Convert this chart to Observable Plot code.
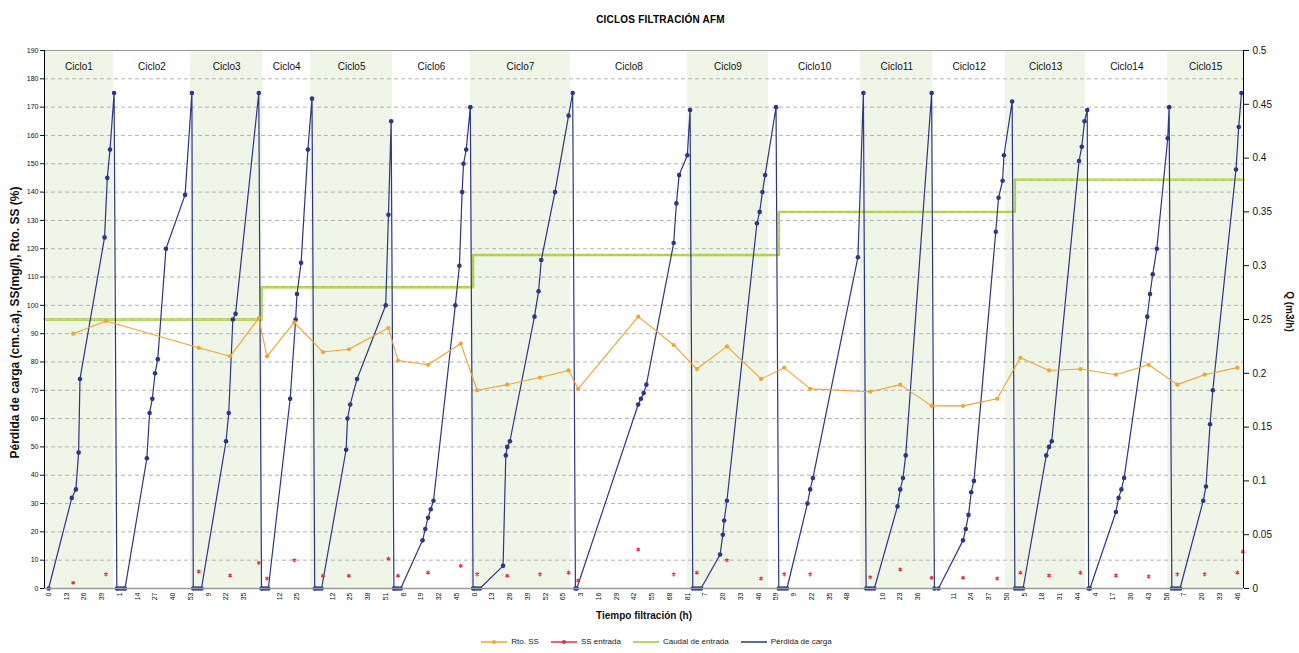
<!DOCTYPE html>
<html><head><meta charset="utf-8">
<script src="https://cdn.jsdelivr.net/npm/d3@7"></script>
<script src="https://cdn.jsdelivr.net/npm/@observablehq/plot@0.6"></script>
<style>
body{margin:0;background:#fff;font-family:"Liberation Sans",Arial,sans-serif;}
#title{height:40px;line-height:40px;text-align:center;font-weight:bold;font-size:10px;padding-left:22px;font-family:"Liberation Sans Narrow","Liberation Sans",Arial,sans-serif;letter-spacing:0.2px}
#chart{height:590px}
#legend{display:flex;justify-content:center;align-items:center;gap:12px;font-size:8px;height:23px;padding-left:14px;color:#222}
#legend span.it{display:flex;align-items:center;gap:4px}
</style></head><body>
<div id="title">CICLOS FILTRACIÓN AFM</div>
<div id="chart"></div>
<div id="legend"></div>
<script>
// ---------- data ----------
const cycleNames = ["Ciclo1","Ciclo2","Ciclo3","Ciclo4","Ciclo5","Ciclo6","Ciclo7","Ciclo8","Ciclo9","Ciclo10","Ciclo11","Ciclo12","Ciclo13","Ciclo14","Ciclo15"];
// category index where each shaded cycle band starts/ends (16 edges)
const bandEdges = [-3, 47.5, 104, 157, 192, 252, 309, 382.5, 468, 527.5, 595, 648, 701, 760, 820, 875.5];

// x tick labels (one every 13 categories)
const tickLabels = ["0","13","26","39","1","14","27","40","53","9","22","35","","12","25","","12","25","38","51","6","19","32","45","0","13","26","39","52","65","3","16","29","42","55","68","81","7","20","33","46","59","9","22","35","48","","10","23","36","","11","24","37","50","5","18","31","44","4","17","30","43","56","7","20","33","46"];

// Caudal de entrada (m3/h): category where each level begins, and level
const caudalDesde = [-3, 156, 311, 535, 708, 875.5];
const caudalQ = [0.25, 0.28, 0.31, 0.35, 0.38, 0.38];

// sampling categories for Rto. SS and SS entrada
const muestraIdx = [18,42,110,133,154,160,180,201,220,249,256,278,302,314,336,360,381,388,432,458,475,497,522,539,558,602,624,647,670,695,712,733,756,782,806,827,847,871,875];
const rtoSS = [90,94.5,85,82,95.5,82,94,83.5,84.5,92,80.5,79,86.5,70,72,74.5,77,70.5,96,86,77.5,85.5,74,78,70.5,69.5,72,64.5,64.5,67,81.5,77,77.5,75.5,79,72,75.5,78,null];
const ssEntrada = [2,5,6,4.6,9,3.5,10,4.5,4.5,10.5,4.5,5.6,8,5,4.5,5,5.6,2.8,13.8,5,5.6,10,3.5,5,5,4,6.7,3.8,3.8,3.5,5.6,4.6,5.6,4.6,4.2,5,5,5.6,13];

// Pérdida de carga (cm.c.a): [category, value]
const perdidaCarga = [
  // Ciclo1
  [0,0],[17,32],[20,35],[22,48],[23,74],[41,124],[43,145],[45,155],[48,175],[50,0],
  // Ciclo2
  [51,0],[53,0],[55,0],[56,0],[72,46],[74,62],[76,67],[78,76],[80,81],[86,120],[100,139],[105,175],[106,0],
  // Ciclo3
  [108,0],[110,0],[112,0],[130,52],[132,62],[135,95],[137,97],[154,175],[156,0],
  // Ciclo4
  [157,0],[159,0],[161,0],[177,67],[181,95],[182,104],[185,115],[190,155],[193,173],[195,0],
  // Ciclo5
  [196,0],[198,0],[200,0],[218,49],[219,60],[221,65],[226,74],[247,100],[249,132],[251,165],[253,0],
  // Ciclo6
  [254,0],[256,0],[258,0],[274,17],[276,21],[278,25],[280,28],[282,31],[298,100],[301,114],[303,140],[304,150],[306,155],[309,170],[311,0],
  // Ciclo7
  [312,0],[314,0],[316,0],[333,8],[335,47],[336,50],[338,52],[356,96],[359,105],[361,116],[371,140],[381,167],[384,175],[386,0],
  // Ciclo8
  [387,0],[432,65],[434,67],[436,69],[438,72],[458,122],[460,136],[462,146],[468,153],[470,169],[472,0],
  // Ciclo9
  [474,0],[476,0],[478,0],[492,12],[494,19],[495,24],[497,31],[519,129],[521,133],[523,140],[525,146],[533,170],[535,0],
  // Ciclo10
  [537,0],[539,0],[541,0],[556,30],[558,35],[560,39],[593,117],[597,175],[599,0],
  // Ciclo11
  [601,0],[603,0],[605,0],[622,29],[624,35],[626,39],[628,47],[647,175],[649,0],
  // Ciclo12
  [652,0],[670,17],[672,21],[674,26],[676,34],[678,38],[694,126],[696,138],[699,144],[700,153],[706,172],[708,0],
  // Ciclo13
  [710,0],[712,0],[714,0],[731,47],[733,50],[735,52],[755,151],[757,156],[759,165],[761,169],[762,0],
  // Ciclo14
  [763,0],[782,27],[784,32],[786,35],[788,39],[805,96],[807,104],[809,111],[812,120],[820,159],[821,170],[823,0],
  // Ciclo15
  [825,0],[827,0],[829,0],[846,31],[848,36],[851,58],[853,70],[870,148],[872,163],[874,175]
];

const rightTickLabels = ["0","0.05","0.1","0.15","0.2","0.25","0.3","0.35","0.4","0.45","0.5"];
const leftTitle = "Pérdida de carga (cm.c.a), SS(mg/l), Rto. SS (%)";
const rightTitle = "Q (m3/h)";
const xTitle = "Tiempo filtración (h)";
const legendItems = ["Rto. SS","SS entrada","Caudal de entrada","Pérdida de carga"];

// ---------- derived tables ----------
const Q_TO_Y = 190 / 0.5;
const colors = {rto:"#f0a431", ss:"#e2323c", caudal:"#a2c93a", perdida:"#2c3589", band:"#eff6e8"};
const bands = cycleNames.map((name,i)=>({name, x1:bandEdges[i], x2:bandEdges[i+1], i}));
const ticks = tickLabels.map((t,i)=>({x:i*13, t}));
const tickMap = new Map(ticks.map(d=>[d.x,d.t]));
const caudal = caudalDesde.map((x,i)=>({x, y:caudalQ[i]*Q_TO_Y}));
const muestras = muestraIdx.map((x,i)=>({x, rto:rtoSS[i], ss:ssEntrada[i]}));
const perdida = perdidaCarga.map(([x,y])=>({x,y}));

const chart = Plot.plot({
  width: 1299, height: 590,
  marginLeft: 44, marginRight: 56, marginTop: 10, marginBottom: 42,
  style: {fontFamily: "'Liberation Sans', Arial, sans-serif", fontSize: "7px", color:"#111", background:"#fff"},
  x: {domain: [-3, 875.5], axis: null},
  y: {domain: [0, 190], axis: null},
  marks: [
    Plot.rect(bands, {x1:"x1", x2:"x2", y1:0, y2:190, fill: d => d.i % 2 === 0 ? colors.band : "#ffffff"}),
    Plot.ruleY(d3.range(10, 190, 10), {stroke:"#aaaaaa", strokeDasharray:"4,3", strokeWidth:0.9}),
    Plot.ruleY([190], {stroke:"#999", strokeWidth:1}),
    Plot.text(bands, {x: d => (d.x1 + d.x2) / 2, y: 184.3, text:"name", fontSize: 10, fill:"#111"}),
    // Caudal
    Plot.line(caudal, {x:"x", y:"y", curve:"step-after", stroke: colors.caudal, strokeWidth: 2.4}),
    Plot.line(caudal, {x:"x", y:"y", curve:"step-after", stroke: "#d8e98f", strokeWidth: 0.7, strokeDasharray:"6,2"}),
    // Pérdida de carga
    Plot.line(perdida, {x:"x", y:"y", stroke: colors.perdida, strokeWidth: 1.2}),
    Plot.dot(perdida, {x:"x", y:"y", r: 2.3, fill: colors.perdida, stroke: "none"}),
    // Rto SS
    Plot.line(muestras, {x:"x", y:"rto", stroke: colors.rto, strokeWidth: 1.1}),
    Plot.dot(muestras, {x:"x", y:"rto", r: 2.1, fill: colors.rto, stroke:"none"}),
    // SS entrada
    Plot.dot(muestras, {x:"x", y:"ss", r: 1.9, symbol:"asterisk", stroke: colors.ss, strokeWidth: 1.1}),
    // axes
    Plot.ruleY([0], {stroke:"#9a9a9a", strokeWidth: 1.6}),
    Plot.ruleX([-3], {stroke:"#000", strokeWidth: 1}),
    Plot.ruleX([875.5], {stroke:"#000", strokeWidth: 1}),
    Plot.axisY(d3.range(0, 191, 10), {anchor:"left", tickSize: 4, tickPadding: 2, fontSize: 7, label: null}),
    Plot.axisY(rightTickLabels.map((_, i) => i * 19), {anchor:"right", tickSize: 5, tickPadding: 4, fontSize: 10, label: null,
      tickFormat: d => rightTickLabels[Math.round(d / 19)]}),
    Plot.axisX(ticks.map(d => d.x), {anchor:"bottom", tickSize: 0, tickPadding: 4, tickRotate: -90, fontSize: 7, label: null,
      tickFormat: d => tickMap.get(d)}),
    // titles
    Plot.text([leftTitle], {frameAnchor:"left", dx:-29, dy:3, rotate:-90, textAnchor:"middle", fontSize: 12, fontWeight:"bold", text: d => d}),
    Plot.text([rightTitle], {frameAnchor:"right", dx:46, dy:-8, rotate:90, textAnchor:"middle", fontSize: 10, fontWeight:"bold", text: d => d}),
    Plot.text([xTitle], {frameAnchor:"bottom", dy:30, fontSize: 10, fontWeight:"bold", text: d => d})
  ]
});
document.getElementById("chart").appendChild(chart);

// legend
const legendColors = [colors.rto, colors.ss, colors.caudal, colors.perdida];
const legendMarker = [true, true, false, false];
const lg = document.getElementById("legend");
legendItems.forEach((name, i) => {
  const s = document.createElement("span");
  s.className = "it";
  s.innerHTML = `<svg width="26" height="8"><line x1="0" y1="4" x2="26" y2="4" stroke="${legendColors[i]}" stroke-width="1.5"/>` +
    (legendMarker[i] ? `<circle cx="13" cy="4" r="2" fill="${legendColors[i]}"/>` : "") + `</svg><span>${name}</span>`;
  lg.appendChild(s);
});
</script>
</body></html>
